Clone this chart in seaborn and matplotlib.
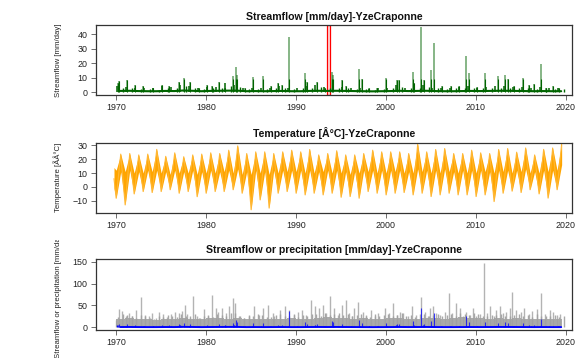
import numpy as np
import pandas as pd
import matplotlib
matplotlib.use("Agg")
import matplotlib.pyplot as plt
import seaborn as sns
from matplotlib.transforms import Bbox, TransformedBbox

# ---------------- data ----------------
years = list(range(1970, 2020))

# streamflow peaks [mm/day]
q_peak_time = [1970.2, 1970.4, 1971.2, 1972.1, 1973.0, 1974.1, 1975.1, 1975.9, 1977.0, 1977.6,
               1978.2, 1979.2, 1980.1, 1980.7, 1981.5, 1982.1, 1983.0, 1983.4, 1983.45, 1984.4,
               1985.2, 1986.4, 1987.3, 1988.0, 1988.5, 1989.3, 1991.0, 1991.3, 1992.4, 1993.2,
               1994.0, 1994.1, 1995.1, 1995.6, 1997.0, 1997.4, 1998.1, 1999.0, 2000.0, 2001.3,
               2001.5, 2003.0, 2003.1, 2003.96, 2004.3, 2005.0, 2005.33, 2006.2, 2007.3, 2008.1,
               2008.96, 2009.3, 2010.1, 2011.0, 2012.5, 2013.2, 2013.6, 2014.3, 2015.2, 2015.9,
               2016.5, 2017.2, 2017.8, 2018.6, 2019.3]
q_peak_value = [6, 7.5, 8, 5, 4, 3, 5, 4.5, 7, 9.5,
                7, 3, 5, 4, 7, 3, 11, 17, 12, 3,
                10.5, 11, 4, 6.5, 5, 38, 13, 7, 7, 3,
                13.5, 12, 8.5, 4, 16, 9, 2.5, 3, 10, 8.5,
                8, 14, 6, 44.5, 8, 15, 33.5, 4, 4, 4,
                25, 13, 3.5, 13, 11, 12, 9, 4, 9.5, 5,
                5.5, 19.5, 3, 4, 3]
# winter and autumn high flows of each year, and yearly low flow
q_winter = [4.5, 3.5, 3, 2.5, 2.5, 4, 3.5, 5, 4, 2.5, 3.5, 3.5, 6, 5, 2.5, 3, 2.5, 3, 4, 3,
            3, 4, 5, 3.5, 4, 3.5, 3, 2.5, 2, 2.5, 3, 5, 3, 4, 5, 3, 2.5, 3, 3.5, 4,
            3, 3.5, 4, 4, 3.5, 3.5, 3, 3.5, 3, 2.5]
q_autumn = [3, 2.5, 2, 2, 1.5, 3, 2.5, 4, 3, 2, 2.5, 3, 4, 3.5, 2, 2, 2, 2.5, 3, 2,
            2.5, 3, 3.5, 2.5, 3, 2.5, 2, 2, 1.5, 2, 2.5, 3.5, 2.5, 3, 3.5, 2.5, 2, 2.5, 2.5, 3,
            2.5, 2.5, 3, 3, 2.5, 2.5, 2, 2.5, 2, 2]
q_base = [0.8, 0.9, 0.7, 0.6, 0.6, 0.8, 0.7, 1.1, 0.9, 0.6, 0.8, 0.9, 1.0, 1.0, 0.6, 0.7, 0.6, 0.7, 0.8, 0.6,
          0.6, 0.8, 0.9, 0.8, 0.9, 0.8, 0.7, 0.6, 0.5, 0.6, 0.7, 0.9, 0.7, 0.8, 0.9, 0.7, 0.6, 0.6, 0.7, 0.8,
          0.7, 0.8, 0.9, 0.9, 0.8, 0.7, 0.6, 0.7, 0.6, 0.6]

# temperature [deg C]: summer maxima, winter minima and band edges
t_summer_max = [23.6, 24, 23, 23.6, 27, 22, 24.5, 21.7, 23, 23.6,
                24.5, 24, 26.4, 29.5, 24, 25.2, 25.2, 24, 25.2, 26.4,
                25.2, 26.9, 23, 24, 26, 23, 23, 24, 26.4, 25.2,
                25.2, 25.2, 24, 30.7, 25.2, 26.9, 27.6, 24, 24, 26.4,
                24.5, 24, 26.9, 27.6, 25, 28, 23, 27, 28, 31]
t_winter_min = [-8.1, -12.9, -5, -3.3, -4, -3.3, -2, -4.5, -3.3, -7,
                -4.5, -3.3, -3.3, -2, -4.5, -16.4, -9.3, -15.2, -4.5, -3.3,
                -4.5, -5.7, -4.5, -5.7, -4.5, -7.4, -6.9, -8.1, -3.3, -4.5,
                -5.7, -4.5, -4, -5.7, -4.5, -6.9, -5.7, -4.5, -5.7, -5.7,
                -6.9, -5.7, -10.5, -4.5, -3, -4, -2, -5, -8, -2]
t_winter_high = [12, 11, 10, 10, 11, 10, 9, 10, 10, 9, 10, 10, 11, 10, 9, 9, 10, 9, 10, 11,
                 11, 10, 10, 11, 10, 10, 9, 10, 11, 10, 10, 11, 10, 10, 11, 10, 10, 11, 10, 10,
                 10, 11, 10, 11, 10, 11, 10, 10, 11, 12]
t_summer_low = [11, 12, 11, 12, 12, 11, 12, 11, 12, 11, 12, 11, 12, 13, 11, 12, 11, 12, 12, 12,
                12, 12, 11, 12, 12, 11, 11, 12, 12, 12, 12, 12, 11, 13, 12, 12, 13, 11, 12, 12,
                12, 11, 12, 12, 12, 13, 11, 12, 12, 16]

# precipitation peaks [mm/day]
p_peak_time = [1970.0, 1970.37, 1970.67, 1971.1, 1971.5, 1971.85, 1972.2, 1972.8, 1973.26, 1973.7,
               1974.07, 1974.5, 1974.8, 1975.26, 1975.7, 1976.1, 1976.6, 1977.04, 1977.4, 1977.7,
               1977.96, 1978.3, 1978.6, 1979.07, 1979.4, 1979.8, 1980.2, 1980.67, 1981.1, 1981.4,
               1981.85, 1982.2, 1982.55, 1983.0, 1983.25, 1983.7, 1984.3, 1984.85, 1985.4, 1985.96,
               1986.33, 1986.9, 1987.44, 1987.6, 1988.29, 1988.8, 1989.3, 1989.85, 1990.3, 1990.66,
               1991.14, 1991.7, 1992.14, 1992.6, 1993.0, 1993.4, 1993.85, 1994.2, 1994.7, 1995.1,
               1995.6, 1995.96, 1996.2, 1996.5, 1996.96, 1997.44, 1997.8, 1998.37, 1998.8, 1999.15,
               1999.9, 2000.4, 2000.8, 2001.26, 2001.6, 2001.9, 2002.5, 2002.96, 2003.4, 2003.96,
               2004.33, 2004.7, 2004.96, 2005.26, 2005.63, 2006.0, 2006.55, 2007.0, 2007.4, 2007.85,
               2008.2, 2008.6, 2008.96, 2009.33, 2009.7, 2010.07, 2010.44, 2010.9, 2011.2, 2011.63,
               2012.0, 2012.3, 2012.66, 2013.0, 2013.4, 2013.8, 2014.0, 2014.5, 2015.0, 2015.4,
               2015.9, 2016.3, 2016.8, 2017.3, 2017.7, 2018.2, 2018.6, 2019.0, 2019.4]
p_peak_value = [17, 42, 38, 25, 33, 25, 40, 69, 29, 25,
                33, 21, 36, 30, 23, 30, 36, 33, 38, 52,
                30, 21, 71, 25, 21, 42, 25, 74, 45, 36,
                44, 33, 48, 67, 55, 25, 21, 25, 48, 29,
                44, 52, 33, 25, 40, 48, 40, 29, 36, 40,
                29, 63, 48, 44, 52, 33, 71, 44, 29, 52,
                63, 33, 25, 44, 59, 36, 29, 40, 25, 33,
                44, 33, 55, 29, 36, 33, 25, 48, 29, 69,
                36, 25, 44, 48, 33, 29, 36, 78, 33, 55,
                44, 25, 36, 29, 44, 25, 30, 148, 33, 48,
                25, 40, 48, 33, 36, 44, 81, 40, 35, 45,
                30, 38, 42, 79, 30, 40, 35, 28, 30]
# other frequent rainy days of each year (spring, autumn) [mm/day]
p_spring = [24, 28, 22, 26, 20, 24, 27, 30, 26, 22, 28, 30, 27, 32, 22, 26, 28, 24, 30, 26,
            24, 27, 30, 32, 30, 28, 26, 30, 24, 26, 30, 28, 26, 24, 30, 28, 26, 30, 32, 28,
            30, 26, 28, 27, 28, 26, 24, 27, 25, 24]
p_autumn = [30, 26, 28, 22, 25, 28, 24, 27, 30, 26, 24, 28, 32, 26, 28, 30, 24, 28, 26, 30,
            28, 30, 26, 28, 32, 30, 28, 26, 30, 28, 26, 32, 28, 30, 26, 30, 28, 26, 30, 32,
            26, 28, 30, 26, 30, 28, 30, 26, 28, 26]
# everyday rainfall level of each year
p_base = [20, 22, 19, 18, 17, 18, 19, 22, 20, 19, 21, 22, 20, 22, 18, 19, 20, 19, 20, 21,
          19, 20, 22, 23, 22, 21, 20, 22, 19, 20, 22, 21, 20, 19, 22, 21, 20, 22, 23, 21,
          22, 20, 21, 20, 21, 20, 19, 20, 19, 18]

selected_period = (1993.48, 1993.81)
x_ticks = [1970, 1980, 1990, 2000, 2010, 2020]
start_time, end_time = 1969.8, 2019.6

# ---------------- style ----------------
sns.set_theme(style="ticks")
plt.rcParams["font.family"] = ["Liberation Sans", "DejaVu Sans"]

W, H = 582, 358
fig = plt.figure(figsize=(W / 100, H / 100), dpi=100)
fig.patch.set_facecolor("white")

def make_ax(top, bottom):
    return fig.add_axes([96 / W, 1 - bottom / H, 476 / W, (bottom - top) / H])

ax1 = make_ax(25.3, 94.7)
ax2 = make_ax(142.7, 212.7)
ax3 = make_ax(259, 330)

def style(ax, title, ylabel, yticks, ylim):
    ax.set_xlim(1967.8, 2020.7)
    ax.set_ylim(*ylim)
    ax.set_xticks(x_ticks)
    ax.set_yticks(yticks)
    ax.set_title(title, fontsize=7.6, fontweight="bold", pad=4, color="#111111")
    ax.set_ylabel(ylabel, fontsize=5.6, color="#222222")
    ax.yaxis.set_label_coords(-0.0714, 0.5)
    ax.set_xlabel("")
    ax.tick_params(axis="both", direction="out", length=3.5, width=0.6,
                   labelsize=6.4, colors="#555555", labelcolor="#222222", pad=2.5)
    for s in ax.spines.values():
        s.set_visible(True)
        s.set_linewidth(0.9)
        s.set_color("#333333")
    ax.set_facecolor("white")

winter_t = [y + 0.12 for y in years]
spring_t = [y + 0.3 for y in years]
autumn_t = [y + 0.85 for y in years]

# ---- panel 1: streamflow ----
base_df = pd.DataFrame({"t": [y + 0.5 for y in years], "q": q_base})
ax1.vlines(winter_t, 0, q_winter, color="#006400", lw=1.1)
ax1.vlines(autumn_t, 0, q_autumn, color="#006400", lw=1.0)
ax1.vlines(q_peak_time, 0, q_peak_value, color="#006400", lw=1.1, alpha=0.6)
ax1.vlines(q_peak_time, 0, [min(v, 9) for v in q_peak_value], color="#006400", lw=0.8)
sns.lineplot(data=base_df, x="t", y="q", ax=ax1, color="#006400", lw=1.5)
ax1.axvspan(*selected_period, facecolor="#ffdddd", edgecolor="red", lw=0.9)
style(ax1, "Streamflow [mm/day]-YzeCraponne", "Streamflow [mm/day]",
      [0, 10, 20, 30, 40], (-1.8, 46))

# ---- panel 2: temperature ----
tw = [y + 0.04 for y in years]
ts = [y + 0.55 for y in years]
t_time = [start_time]
t_up = [14]
t_lo = [-1]
t_line = [6]
for i in range(len(years)):
    t_time += [tw[i], ts[i]]
    t_up += [t_winter_high[i], t_summer_max[i]]
    t_lo += [t_winter_min[i], t_summer_low[i]]
    t_line += [t_winter_min[i], t_summer_max[i]]
ax2.fill_between(t_time, t_lo, t_up, color="#FFA500", lw=0)
temp_df = pd.DataFrame({"t": t_time, "v": t_line})
sns.lineplot(data=temp_df, x="t", y="v", ax=ax2, color="#FFB733", lw=0.8, sort=False)
style(ax2, "Temperature [Â°C]-YzeCraponne", "Temperature [ÃÂ°C]",
      [-10, 0, 10, 20, 30], (-18.5, 31.8))

# ---- panel 3: precipitation + streamflow ----
edges = years + [end_time]
ax3.fill_between(edges, 0, p_base + [p_base[-1]], step="post", color="#ababab", lw=0)
ax3.vlines(spring_t, 0, p_spring, color="#a8a8a8", lw=1.0)
ax3.vlines(autumn_t, 0, p_autumn, color="#a8a8a8", lw=1.0)
ax3.vlines(p_peak_time, 0, p_peak_value, color="#a0a0a0", lw=1.0, alpha=0.8)
ax3.vlines(winter_t, 0, q_winter, color="#0000ff", lw=0.9)
ax3.vlines(q_peak_time, 0, q_peak_value, color="#0000ff", lw=0.8, alpha=0.75)
sns.lineplot(data=base_df, x="t", y="q", ax=ax3, color="#0000ff", lw=1.4)
style(ax3, "Streamflow or precipitation [mm/day]-YzeCraponne",
      "Streamflow or precipitation [mm/day]", [0, 50, 100, 150], (-6, 156))
lab = ax3.yaxis.label
lab.set_clip_on(True)
lab.set_clip_box(TransformedBbox(Bbox([[0, 0], [1, 1 - 240 / H]]), fig.transFigure))

fig.savefig("out.png", dpi=100, facecolor="white")
